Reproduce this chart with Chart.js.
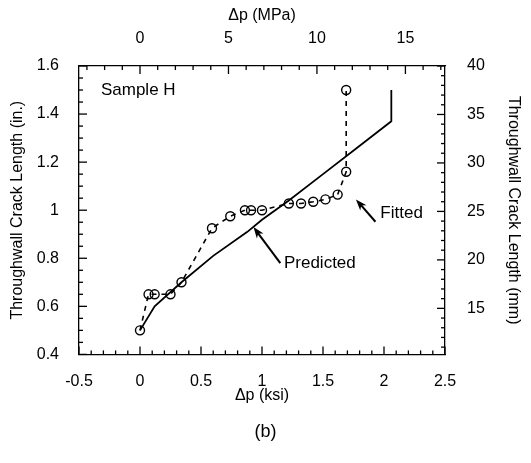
<!DOCTYPE html>
<html>
<head>
<meta charset="utf-8">
<script src="https://cdn.jsdelivr.net/npm/chart.js@4.4.1/dist/chart.umd.min.js"></script>
<style>
  html, body { margin: 0; padding: 0; background: #fff; }
  #wrap { width: 531px; height: 463px; }
</style>
</head>
<body>
<div id="wrap"><canvas id="c" width="531" height="463"></canvas></div>
<script>
// values (ksi / inches)
const fittedX = [0, 0.07, 0.12, 0.25, 0.34, 0.59, 0.74, 0.86, 0.91, 1.0, 1.22, 1.32, 1.42, 1.52, 1.62, 1.69, 1.69];
const fittedY = [0.5, 0.65, 0.65, 0.65, 0.70, 0.925, 0.975, 1.0, 1.0, 1.0, 1.028, 1.028, 1.035, 1.045, 1.065, 1.16, 1.5];
const predictedX = [0, 0.12, 0.34, 0.6, 0.88, 1.0, 1.22, 1.5, 1.78, 2.06, 2.06];
const predictedY = [0.5, 0.6, 0.7, 0.81, 0.91, 0.96, 1.04, 1.15, 1.26, 1.37, 1.5];

// axis ticks
const ksiTicks = [-0.5, 0, 0.5, 1, 1.5, 2, 2.5];
const inTicks = [0.4, 0.6, 0.8, 1, 1.2, 1.4, 1.6];
const mpaTicks = [0, 5, 10, 15];
const mmTicks = [15, 20, 25, 30, 35, 40];

const KSI_TO_MPA = 6.895;
const FONT = 'Liberation Sans, Arial, sans-serif';

const pts = (xs, ys) => xs.map((x, i) => ({x: x, y: ys[i]}));
const fmt = v => String(Number(v.toFixed(2)));

// inward major + minor ticks on all four sides
const minorStep = {x: 0.1, y: 0.05, x2: 1, y2: 1};
const inwardTicks = {
  id: 'inwardTicks',
  afterDraw(chart) {
    const ctx = chart.ctx, a = chart.chartArea;
    ctx.save();
    ctx.strokeStyle = '#000';
    ctx.lineWidth = 1.3;
    ['x', 'y', 'x2', 'y2'].forEach(id => {
      const s = chart.scales[id];
      const step = minorStep[id];
      const majors = (id === 'x' ? ksiTicks : id === 'y' ? inTicks : id === 'x2' ? mpaTicks : mmTicks);
      const n0 = Math.ceil(s.min / step - 1e-6), n1 = Math.floor(s.max / step + 1e-6);
      for (let n = n0; n <= n1; n++) {
        const v = n * step;
        const major = majors.some(m => Math.abs(m - v) < 1e-6);
        const len = major ? 8 : 4;
        const p = s.getPixelForValue(v);
        ctx.beginPath();
        if (id === 'x') { ctx.moveTo(p, a.bottom); ctx.lineTo(p, a.bottom - len); }
        if (id === 'x2') { ctx.moveTo(p, a.top); ctx.lineTo(p, a.top + len); }
        if (id === 'y') { ctx.moveTo(a.left, p); ctx.lineTo(a.left + len, p); }
        if (id === 'y2') { ctx.moveTo(a.right, p); ctx.lineTo(a.right - len, p); }
        ctx.stroke();
      }
    });
    ctx.restore();
  }
};

// text labels and arrows, placed in data units
const notes = {
  id: 'notes',
  afterDatasetsDraw(chart) {
    const ctx = chart.ctx, sx = chart.scales.x, sy = chart.scales.y;
    const X = v => sx.getPixelForValue(v), Y = v => sy.getPixelForValue(v);
    ctx.save();
    ctx.fillStyle = '#000';
    ctx.strokeStyle = '#000';
    ctx.font = '17px ' + FONT;
    ctx.textBaseline = 'middle';
    ctx.fillText('Sample H', X(-0.32), Y(1.5));
    ctx.fillText('Fitted', X(1.97), Y(0.985));
    ctx.fillText('Predicted', X(1.18), Y(0.78));

    function arrow(x0, y0, x1, y1) {
      const px0 = X(x0), py0 = Y(y0), px1 = X(x1), py1 = Y(y1);
      const ang = Math.atan2(py1 - py0, px1 - px0);
      ctx.lineWidth = 2;
      ctx.beginPath(); ctx.moveTo(px0, py0); ctx.lineTo(px1 - 6 * Math.cos(ang), py1 - 6 * Math.sin(ang)); ctx.stroke();
      ctx.beginPath();
      ctx.moveTo(px1, py1);
      ctx.lineTo(px1 - 12 * Math.cos(ang - 0.35), py1 - 12 * Math.sin(ang - 0.35));
      ctx.lineTo(px1 - 8 * Math.cos(ang), py1 - 8 * Math.sin(ang));
      ctx.lineTo(px1 - 12 * Math.cos(ang + 0.35), py1 - 12 * Math.sin(ang + 0.35));
      ctx.closePath(); ctx.fill();
    }
    arrow(1.93, 0.952, 1.77, 1.045);
    arrow(1.15, 0.78, 0.93, 0.93);
    ctx.restore();
  }
};

const fixed = (w, h) => s => { if (w != null) s.width = w; if (h != null) s.height = h; };
const tickFont = { family: FONT, size: 16 };
const titleFont = { family: FONT, size: 16 };

new Chart(document.getElementById('c'), {
  type: 'scatter',
  data: {
    datasets: [
      {
        label: 'Predicted',
        data: pts(predictedX, predictedY),
        showLine: true,
        borderColor: '#000',
        borderWidth: 1.8,
        pointRadius: 0,
        fill: false,
        tension: 0
      },
      {
        label: 'Fitted',
        data: pts(fittedX, fittedY),
        showLine: true,
        borderColor: '#000',
        borderWidth: 1.6,
        borderDash: [5, 5],
        pointRadius: 4.5,
        pointBorderWidth: 1.4,
        pointBackgroundColor: 'rgba(255,255,255,0)',
        pointBorderColor: '#000',
        fill: false,
        tension: 0
      }
    ]
  },
  options: {
    responsive: false,
    animation: false,
    layout: { padding: 0 },
    plugins: {
      legend: { display: false },
      tooltip: { enabled: false },
      title: {
        display: true,
        position: 'bottom',
        text: '(b)',
        color: '#000',
        font: { family: FONT, size: 18, weight: 'normal' },
        padding: { top: 14, bottom: 20 }
      }
    },
    scales: {
      x: {
        type: 'linear', position: 'bottom', min: -0.5, max: 2.5,
        afterBuildTicks: s => { s.ticks = ksiTicks.map(v => ({value: v})); },
        afterFit: fixed(null, 53),
        grid: { display: false },
        border: { display: true, color: '#000', width: 1.3 },
        ticks: { color: '#000', padding: 10, maxRotation: 0, font: tickFont, callback: v => fmt(v) },
        title: { display: true, text: 'Δp (ksi)', color: '#000', padding: { top: 0, bottom: 2 }, font: titleFont }
      },
      x2: {
        type: 'linear', position: 'top', min: -0.5 * KSI_TO_MPA, max: 2.5 * KSI_TO_MPA,
        afterBuildTicks: s => { s.ticks = mpaTicks.map(v => ({value: v})); },
        afterFit: fixed(null, 66),
        grid: { display: false },
        border: { display: true, color: '#000', width: 1.3 },
        ticks: { color: '#000', padding: 10, maxRotation: 0, font: tickFont, callback: v => fmt(v) },
        title: { display: true, text: 'Δp (MPa)', color: '#000', padding: { top: 6, bottom: 6 }, font: titleFont }
      },
      y: {
        type: 'linear', position: 'left', min: 0.4, max: 1.6,
        afterBuildTicks: s => { s.ticks = inTicks.map(v => ({value: v})); },
        afterFit: fixed(79, null),
        grid: { display: false },
        border: { display: true, color: '#000', width: 1.3 },
        ticks: { color: '#000', padding: 12, font: tickFont, callback: v => fmt(v) },
        title: { display: true, text: 'Throughwall Crack Length (in.)', color: '#000', padding: { top: 8, bottom: 8 }, font: titleFont }
      },
      y2: {
        type: 'linear', position: 'right', min: 10.25, max: 40,
        afterBuildTicks: s => { s.ticks = mmTicks.map(v => ({value: v})); },
        afterFit: fixed(86, null),
        grid: { display: false },
        border: { display: true, color: '#000', width: 1.3 },
        ticks: { color: '#000', padding: 14, font: tickFont, callback: v => fmt(v) },
        title: { display: true, text: 'Throughwall Crack Length (mm)', color: '#000', padding: { top: 8, bottom: 8 }, font: titleFont }
      }
    }
  },
  plugins: [inwardTicks, notes]
});
</script>
</body>
</html>
